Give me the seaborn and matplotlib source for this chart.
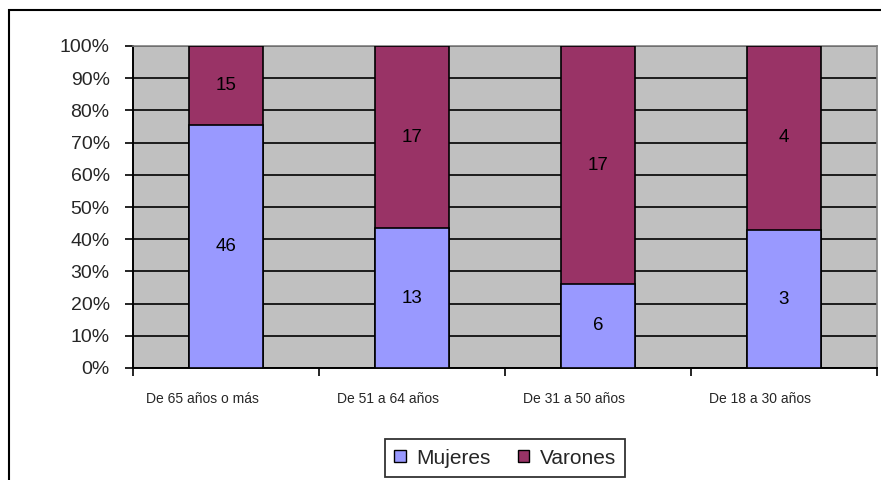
import numpy as np
import pandas as pd
import matplotlib
matplotlib.use("Agg")
import matplotlib.pyplot as plt
import matplotlib.ticker as mtick
from matplotlib.patches import Rectangle, Patch
from matplotlib.transforms import ScaledTranslation
import seaborn as sns

# ── Data ─────────────────────────────────────────────────────
categories = ["De 65 años o más", "De 51 a 64 años", "De 31 a 50 años", "De 18 a 30 años"]
mujeres = [46, 13, 6, 3]
varones = [15, 17, 17, 4]

MUJ_COLOR = "#9999FF"
VAR_COLOR = "#993366"

df = pd.DataFrame({"grupo": categories, "Mujeres": mujeres, "Varones": varones})
df["total"] = df["Mujeres"] + df["Varones"]
df["pct_muj"] = df["Mujeres"] / df["total"] * 100
df["pct_all"] = 100.0

# ── Style ────────────────────────────────────────────────────
sns.set_style("white")
plt.rcParams["font.family"] = ["Liberation Sans", "DejaVu Sans"]

fig = plt.figure(figsize=(8.81, 4.80), dpi=100)
ax = fig.add_axes([133 / 881, 1 - 368 / 480, (877 - 133) / 881, (368 - 46) / 480])
ax.set_facecolor("#C0C0C0")

# stacked 100% bars: full bar in Varones colour, Mujeres share on top
sns.barplot(data=df, x="grupo", y="pct_all", color=VAR_COLOR, width=0.40,
            edgecolor="black", linewidth=1.2, saturation=1, ax=ax, zorder=3)
sns.barplot(data=df, x="grupo", y="pct_muj", color=MUJ_COLOR, width=0.40,
            edgecolor="black", linewidth=1.2, saturation=1, ax=ax, zorder=4)

for i, row in df.iterrows():
    ax.text(i, row["pct_muj"] / 2, f"{row['Mujeres']}", ha="center", va="center",
            fontsize=13.5, color="black", zorder=5)
    ax.text(i, (row["pct_muj"] + 100) / 2, f"{row['Varones']}", ha="center", va="center",
            fontsize=13.5, color="black", zorder=5)

ax.set_xlim(-0.5, len(categories) - 0.5)
ax.set_ylim(0, 100)
ax.yaxis.set_major_locator(mtick.MultipleLocator(10))
ax.yaxis.set_major_formatter(mtick.FuncFormatter(lambda v, _: f"{v:.0f}%"))
ax.yaxis.grid(True, color="black", linewidth=1.2, zorder=1)
ax.set_axisbelow(True)

ax.set_xticks(np.arange(-0.5, len(categories), 1.0))
ax.set_xticklabels([])
ax.set_xticks(np.arange(len(categories)), minor=True)
ax.set_xticklabels(categories, minor=True, fontsize=10)
ax.tick_params(axis="x", which="major", bottom=True, direction="out", length=5.8,
               width=1.2, color="black")
ax.tick_params(axis="x", which="minor", bottom=True, length=0, pad=17)
ax.tick_params(axis="y", left=True, direction="out", length=5.8, width=1.2, color="black",
               labelsize=14, pad=11)
ax.set_xlabel("")
ax.set_ylabel("")

# category labels sit a bit left of the bar centres, as in the original
shift = ScaledTranslation(-24 / 100, 0, fig.dpi_scale_trans)
for lab in ax.xaxis.get_minorticklabels():
    lab.set_transform(lab.get_transform() + shift)

for s in ["left", "bottom"]:
    ax.spines[s].set_color("black")
    ax.spines[s].set_linewidth(1.4)
for s in ["top", "right"]:
    ax.spines[s].set_color("#808080")
    ax.spines[s].set_linewidth(1.2)
    ax.spines[s].set_visible(True)

# outer chart border
fig.patches.append(Rectangle((9 / 881, -0.05), 1.0, 1 - 10 / 480 + 0.05,
                             transform=fig.transFigure, fill=False,
                             edgecolor="black", linewidth=1.5))

handles = [Patch(facecolor=MUJ_COLOR, edgecolor="black", label="Mujeres"),
           Patch(facecolor=VAR_COLOR, edgecolor="black", label="Varones")]
leg = fig.legend(handles=handles, loc="center", bbox_to_anchor=(505 / 881, 1 - 458 / 480),
                 ncol=2, fontsize=15, frameon=True, fancybox=False,
                 handlelength=0.55, handleheight=0.55, handletextpad=0.5,
                 columnspacing=1.3, borderpad=0.45)
leg.get_frame().set_edgecolor("black")
leg.get_frame().set_linewidth(1.3)

fig.savefig("out.png", dpi=100)
